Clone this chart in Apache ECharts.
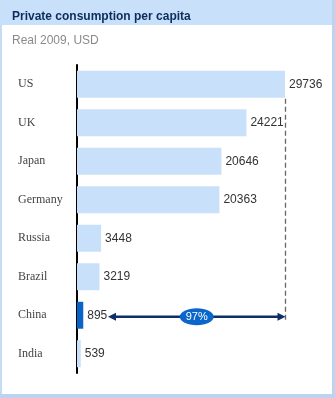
<!DOCTYPE html>
<html><head><meta charset="utf-8">
<script src="https://cdn.jsdelivr.net/npm/echarts@6/dist/echarts.min.js"></script>
<style>html,body{margin:0;padding:0;background:#fff}#c{width:335px;height:398px}</style>
</head><body><div id="c"></div>
<script>
const categories = ['US','UK','Japan','Germany','Russia','Brazil','China','India'];
const values = [29736, 24221, 20646, 20363, 3448, 3219, 895, 539];
const highlight = 'China';
const reference = 'US';
const arrowStartValue = 4430;
const gapLabel = '97%';

const chart = echarts.init(document.getElementById('c'), null, {renderer:'canvas'});
const refVal = values[categories.indexOf(reference)];

chart.setOption({
  animation:false,
  graphic:[
    {type:'rect', left:0, top:0, shape:{width:335, height:398}, style:{fill:'#fff', stroke:'#c6dcf5', lineWidth:2}, z:-10},
    {type:'rect', left:0, top:0, shape:{width:335, height:25}, style:{fill:'#c8e0fa'}, z:-9},
    {type:'rect', left:332, top:0, shape:{width:3, height:398}, style:{fill:'#bcd4f0'}, z:-8},
    {type:'rect', left:0, top:394, shape:{width:335, height:4}, style:{fill:'#bcd4f0'}, z:-8}
  ],
  title:[
    {text:'Private consumption per capita', left:7, top:6,
     textStyle:{fontFamily:'Liberation Sans', fontSize:12, fontWeight:'bold', color:'#0c2c5e'}},
    {text:'Real 2009, USD', left:7, top:30,
     textStyle:{fontFamily:'Liberation Sans', fontSize:12, fontWeight:'normal', color:'#8a8a8a'}}
  ],
  grid:{left:77, top:65, width:208, height:308, containLabel:false},
  xAxis:{type:'value', min:0, max:refVal, show:false},
  yAxis:{type:'category', data:categories, inverse:true, offset:1,
    axisLine:{show:true, lineStyle:{color:'#000', width:2}},
    axisTick:{show:false}, splitLine:{show:false},
    axisLabel:{align:'left', margin:58, padding:[4,0,0,0], fontFamily:'Liberation Serif', fontSize:12, color:'#444'}},
  series:[
    {type:'bar', barCategoryGap:'30%',
     data: values.map((v,i)=>({value:v, itemStyle:{color: categories[i]===highlight ? '#0a64c8' : '#c8e0f9'}})),
     label:{show:true, position:'right', distance:4, fontFamily:'Liberation Sans', fontSize:12, color:'#333'},
     z:2},
    {type:'custom', z:5, silent:true,
     data:[[refVal, highlight, arrowStartValue]],
     renderItem:function(params, api){
       const pRef = api.coord([api.value(0), reference]);
       const pHi = api.coord([api.value(0), api.value(1)]);
       const pStart = api.coord([api.value(2), api.value(1)]);
       const band = api.size([0,1])[1];
       const half = band*0.35;
       const x1 = pRef[0] + 0.5, y = pHi[1] + 1.5;
       const xs = pStart[0];
       const hl = 8, hh = 4;
       const cx = (xs + x1)/2;
       return {type:'group', children:[
         {type:'line', shape:{x1:x1, y1:pRef[1]+half+1, x2:x1, y2:y+4},
          style:{stroke:'#666', lineWidth:1.3, lineDash:[5,3]}},
         {type:'line', shape:{x1:xs+hl-1, y1:y, x2:x1-hl+1, y2:y},
          style:{stroke:'#0d2d6b', lineWidth:2.5}},
         {type:'polygon', shape:{points:[[xs,y],[xs+hl,y-hh],[xs+hl,y+hh]]}, style:{fill:'#0d2d6b'}},
         {type:'polygon', shape:{points:[[x1,y],[x1-hl,y-hh],[x1-hl,y+hh]]}, style:{fill:'#0d2d6b'}},
         {type:'ellipse', shape:{cx:cx, cy:y, rx:17, ry:8.5}, style:{fill:'#0b66cc'}},
         {type:'text', x:cx, y:y, style:{text:gapLabel, fill:'#fff', fontFamily:'Liberation Sans', fontSize:11, align:'center', verticalAlign:'middle'}}
       ]};
     }}
  ]
});
</script></body></html>
